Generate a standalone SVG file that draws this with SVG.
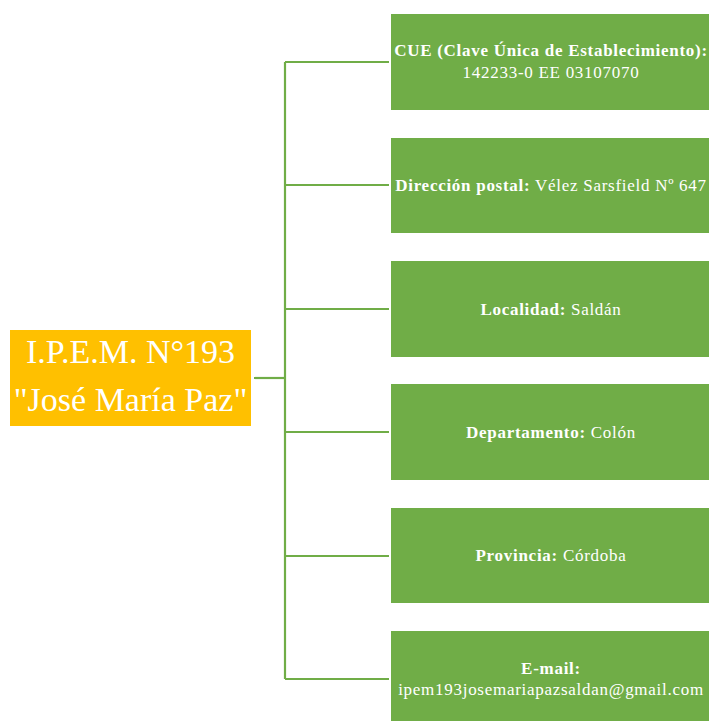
<svg xmlns="http://www.w3.org/2000/svg" width="709" height="721" viewBox="0 0 709 721">
<style>
.box{fill:#70AD47}
.root{fill:#FFC000}
.conn{fill:none;stroke:#70AD47;stroke-width:2.2}
.t{font-family:"Liberation Serif","Times New Roman",serif;font-size:17px;letter-spacing:0.72px;fill:#ffffff;text-anchor:middle}
.b{font-weight:bold}
.rt{font-family:"Liberation Serif","Times New Roman",serif;font-size:34px;fill:#ffffff;text-anchor:middle}
</style>
<rect width="709" height="721" fill="#ffffff"/>
<g id="connectors">
<path class="conn" d="M254 378H285"/>
<path class="conn" d="M285 62V679"/>
<path class="conn" d="M285 62H389"/>
<path class="conn" d="M285 185H389"/>
<path class="conn" d="M285 309H389"/>
<path class="conn" d="M285 432H389"/>
<path class="conn" d="M285 556H389"/>
<path class="conn" d="M285 679H389"/>
</g>
<g id="root">
<rect class="root" x="10" y="330" width="241" height="96"/>
<text class="rt" x="130.5" y="362.5">I.P.E.M. N°193</text>
<text class="rt" x="130.5" y="411">"José María Paz"</text>
</g>
<g id="cue">
<rect class="box" x="391" y="14" width="318" height="96"/>
<text class="t" x="551" y="56"><tspan class="b">CUE (Clave Única de Establecimiento):</tspan></text>
<text class="t" x="551" y="78">142233-0 EE 03107070</text>
</g>
<g id="direccion">
<rect class="box" x="391" y="138" width="318" height="95"/>
<text class="t" x="551" y="191"><tspan class="b">Dirección postal:</tspan> Vélez Sarsfield Nº 647</text>
</g>
<g id="localidad">
<rect class="box" x="391" y="261" width="318" height="96"/>
<text class="t" x="551" y="315"><tspan class="b">Localidad:</tspan> Saldán</text>
</g>
<g id="departamento">
<rect class="box" x="391" y="384" width="318" height="96"/>
<text class="t" x="551" y="438"><tspan class="b">Departamento:</tspan> Colón</text>
</g>
<g id="provincia">
<rect class="box" x="391" y="508" width="318" height="95"/>
<text class="t" x="551" y="561"><tspan class="b">Provincia:</tspan> Córdoba</text>
</g>
<g id="email">
<rect class="box" x="391" y="631" width="318" height="90"/>
<text class="t" x="551" y="674"><tspan class="b">E-mail:</tspan></text>
<text class="t" x="551" y="695">ipem193josemariapazsaldan@gmail.com</text>
</g>
</svg>
